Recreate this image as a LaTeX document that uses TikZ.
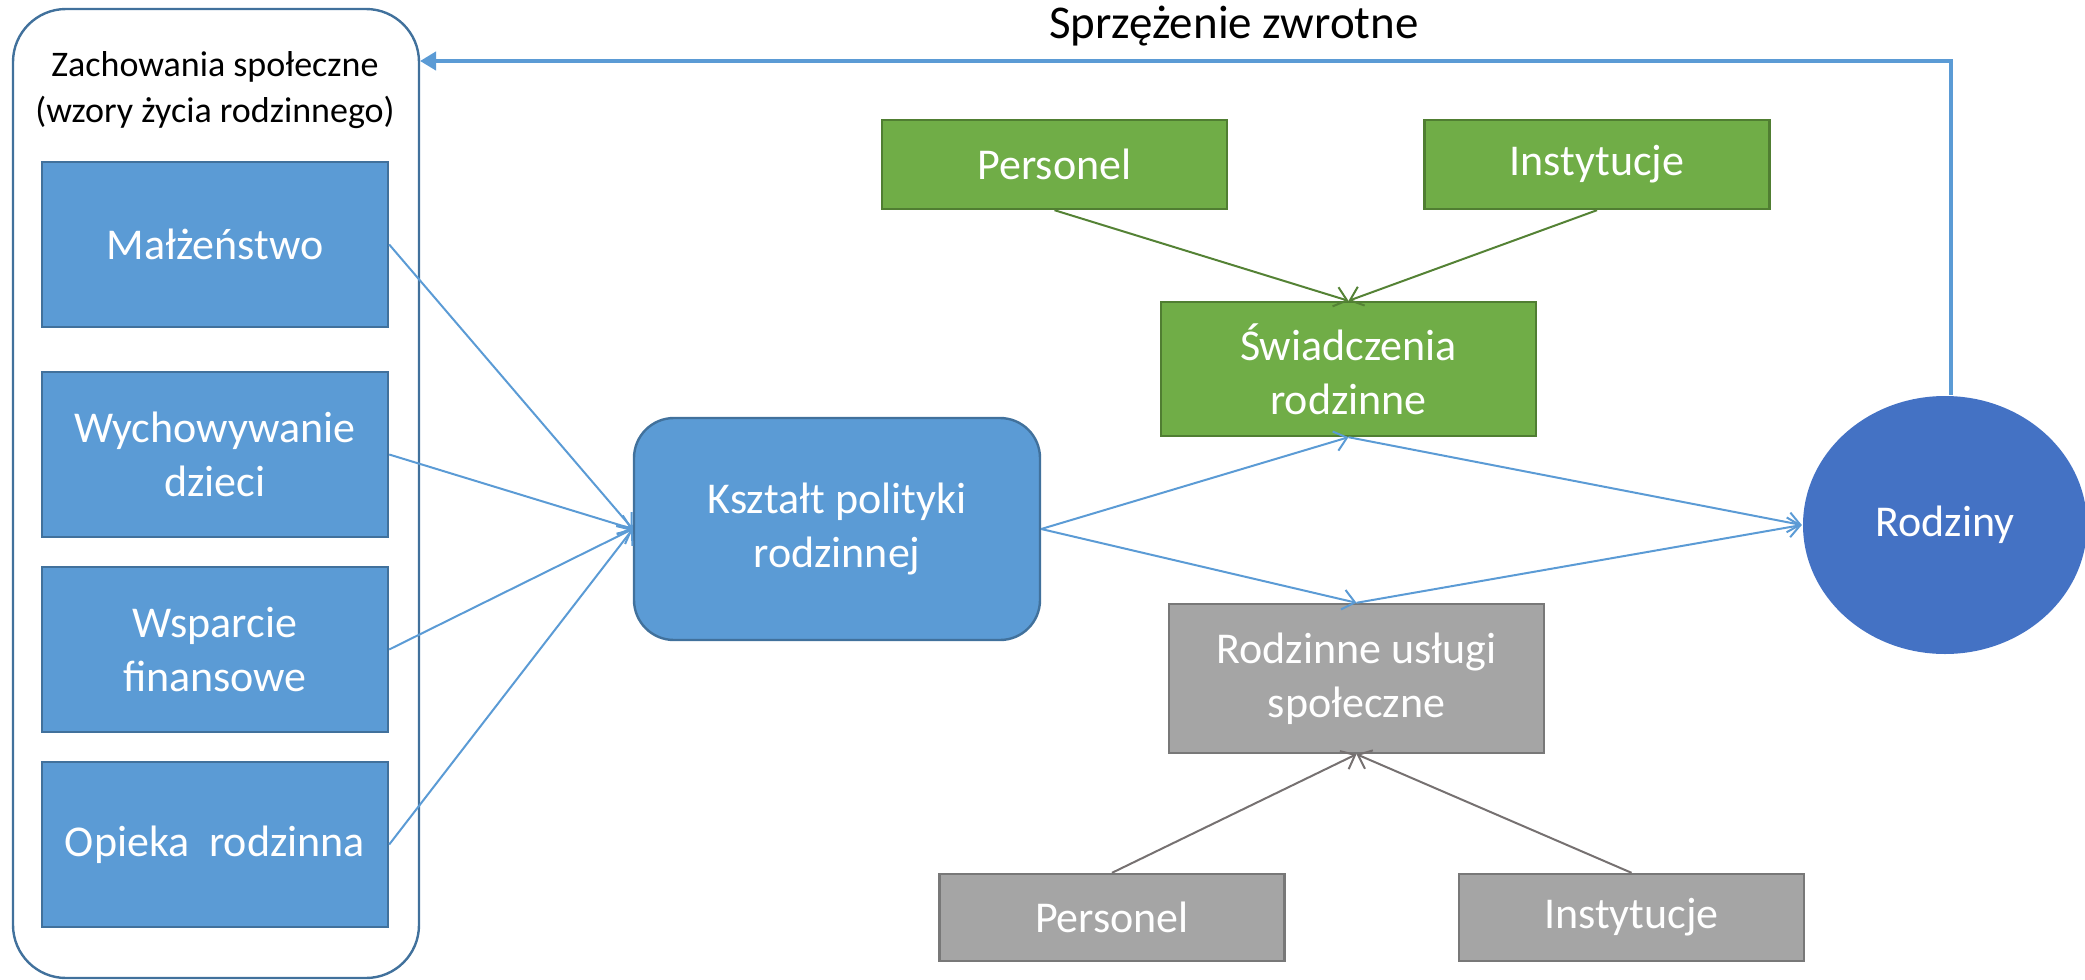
\documentclass[tikz,border=0pt]{standalone}
\usepackage{fontspec}
\setmainfont{Carlito}
\usetikzlibrary{arrows.meta,shapes.geometric}
\definecolor{boxblue}{HTML}{5B9BD5}
\definecolor{boxblueline}{HTML}{41719C}
\definecolor{boxgreen}{HTML}{70AD47}
\definecolor{boxgreenline}{HTML}{507E32}
\definecolor{boxgray}{HTML}{A5A5A5}
\definecolor{boxgrayline}{HTML}{787878}
\definecolor{famblue}{HTML}{4472C4}
\definecolor{arrgreen}{HTML}{548235}
\definecolor{arrgray}{HTML}{767171}
\tikzset{
  base/.style={draw, line width=1.2pt, text=white, font=\fontsize{22}{27}\selectfont, align=center, inner sep=0pt},
  bluebox/.style={base, fill=boxblue, draw=boxblueline, minimum width=173pt, minimum height=82.5pt},
  policybox/.style={base, fill=boxblue, draw=boxblueline, rounded corners=20pt, minimum width=203pt, minimum height=111pt},
  greensmall/.style={base, fill=boxgreen, draw=boxgreenline, minimum width=172.5pt, minimum height=44.5pt},
  greenbig/.style={base, fill=boxgreen, draw=boxgreenline, minimum width=187.5pt, minimum height=67pt},
  graysmall/.style={base, fill=boxgray, draw=boxgrayline, minimum width=172.5pt, minimum height=43.5pt},
  graybig/.style={base, fill=boxgray, draw=boxgrayline, minimum width=187.5pt, minimum height=74.5pt},
  famnode/.style={base, ellipse, fill=famblue, draw=none, minimum width=142pt, minimum height=129pt},
  outerbox/.style={draw=boxblueline, line width=1.2pt, rounded corners=26.5pt, minimum width=203pt, minimum height=484.5pt, inner sep=0pt},
  conn/.style={draw=boxblue, line width=1pt, -{Straight Barb[length=6pt,width=10pt]}},
  greenconn/.style={draw=arrgreen, line width=1pt, -{Straight Barb[length=6pt,width=10pt]}},
  grayconn/.style={draw=arrgray, line width=1pt, -{Straight Barb[length=6pt,width=10pt]}},
  fbconn/.style={draw=boxblue, line width=2.2pt, -{Triangle[length=8pt,width=9pt]}},
  blacktext/.style={text=black, align=center, inner sep=0pt}
}
\begin{document}
\begin{tikzpicture}[x=0.5pt,y=-0.5pt]
\useasboundingbox (0,0) rectangle (2085,980);
% outer group
\node[outerbox] (outer) at (216,493.5) {};
\node[blacktext, font=\fontsize{18}{23}\selectfont] (title) at (215,90) {Zachowania społeczne\\(wzory życia rodzinnego)};
% left boxes
\node[bluebox] (m) at (215,244.5) {Małżeństwo};
\node[bluebox] (w) at (215,454.5) {Wychowywanie\\dzieci};
\node[bluebox] (f) at (215,649.5) {Wsparcie\\finansowe};
\node[bluebox] (o) at (215,844.5) {Opieka\hspace{0.45em}rodzinna};
% policy
\node[policybox] (k) at (837,529) {Kształt polityki\\rodzinnej};
% green
\node[greensmall] (gp) at (1054.5,164.5) {Personel};
\node[greensmall] (gi) at (1597,164.5) {Instytucje};
\node[greenbig] (s) at (1348.5,369) {Świadczenia\\rodzinne};
% gray
\node[graybig] (u) at (1356.5,678.5) {Rodzinne usługi\\społeczne};
\node[graysmall] (rp) at (1112,917.5) {Personel};
\node[graysmall] (ri) at (1631.5,917.5) {Instytucje};
% families
\node[famnode] (r) at (1945,525) {Rodziny};
% feedback label
\node[blacktext, font=\fontsize{23.5}{28}\selectfont] (fbl) at (1234,26) {Sprzężenie zwrotne};
\coordinate (fb) at (420,61);
% connectors
\draw[conn] (m.east) -- (k.west);
\draw[conn] (w.east) -- (k.west);
\draw[conn] (f.east) -- (k.west);
\draw[conn] (o.east) -- (k.west);
\draw[conn] (k.east) -- (s.south);
\draw[conn] (k.east) -- (u.north);
\draw[conn] (s.south) -- (r.west);
\draw[conn] (u.north) -- (r.west);
\draw[greenconn] (gp.south) -- (s.north);
\draw[greenconn] (gi.south) -- (s.north);
\draw[grayconn] (rp.north) -- (u.south);
\draw[grayconn] (ri.north) -- (u.south);
\draw[fbconn] ([xshift=3pt]r.north) |- (fb);
\end{tikzpicture}
\end{document}
